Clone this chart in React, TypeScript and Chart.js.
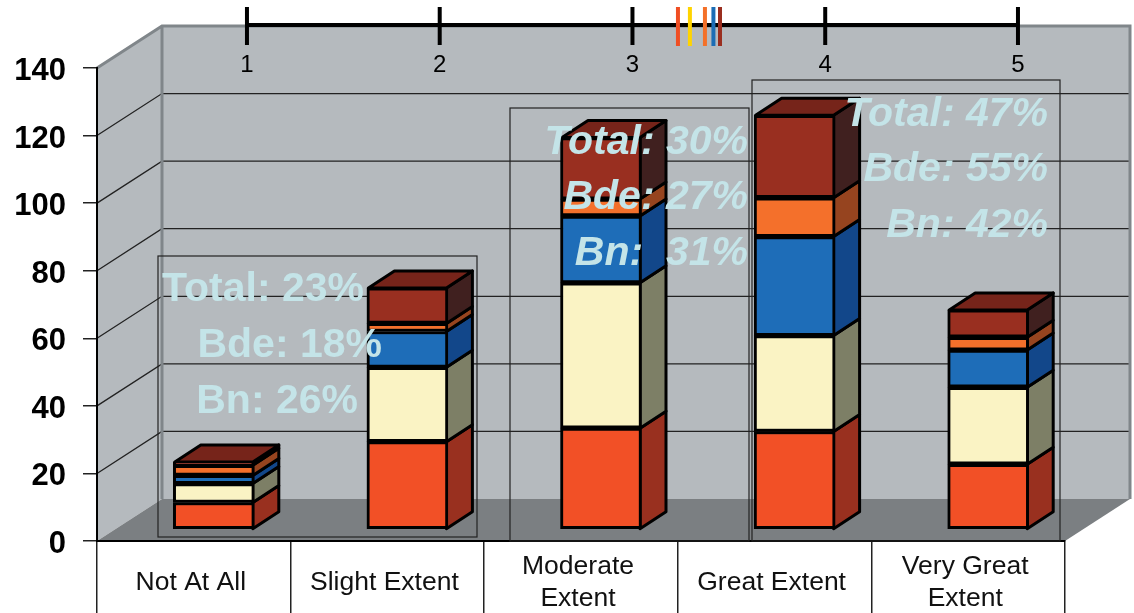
import React, { useEffect, useRef } from "react";
import { Chart, registerables } from "chart.js";

Chart.register(...registerables);

const categories = ["Not At All", "Slight Extent", ["Moderate", "Extent"], "Great Extent", ["Very Great", "Extent"]];
const redValues = [8, 26, 30, 29, 19.3];
const creamValues = [5.6, 22, 43, 28.4, 22.8];
const blueValues = [2.4, 10.6, 19.8, 29.3, 11];
const orangeValues = [3, 2.4, 5, 11.5, 3.8];
const brownValues = [1, 10.5, 18.2, 24.4, 8.1];
const yTicks = [0, 20, 40, 60, 80, 100, 120, 140];
const scaleTicks = [1, 2, 3, 4, 5];
const meanMarks = [3.236, 3.298, 3.376, 3.42, 3.454];

const FRONT = ["#f25026", "#faf3c4", "#1e6db8", "#f4702b", "#992f20"];
const SIDE = ["#99301f", "#7d7f66", "#12478a", "#96441f", "#40201f"];
const MARK = ["#f04e23", "#ffd400", "#f47028", "#1c6db5", "#9a2e1f"];
const TOP_FACE = "#76241a";
const WALL = "#b5babe";
const FLOOR = "#7b7f82";
const EDGE = "#80868a";
const NOTE = "#c4e4e8";
const FF = '"Liberation Sans", Arial, sans-serif';

const DX = 65, DY = 42;      // wall depth
const BX = 20, BY = 11.5;    // bar shift into the room
const SX = 26, SY = 17;      // bar depth

type Note = { box: number[]; italic: boolean; lines: string[]; right: number[]; ys: number[] };
const notes: Note[] = [
  { box: [158, 256, 477, 537], italic: false, lines: ["Total: 23%", "Bde: 18%", "Bn: 26%"], right: [364, 382, 358], ys: [288, 344, 400] },
  { box: [510, 108, 749, 541], italic: true, lines: ["Total: 30%", "Bde: 27%", "Bn:  31%"], right: [748, 748, 748], ys: [143, 198, 254] },
  { box: [752, 80, 1060, 541], italic: true, lines: ["Total: 47%", "Bde: 55%", "Bn: 42%"], right: [1048, 1048, 1048], ys: [115, 170, 226] },
];

function poly(ctx: CanvasRenderingContext2D, pts: number[][], fill?: string, stroke?: string, lw = 1) {
  ctx.beginPath();
  pts.forEach((p, i) => (i ? ctx.lineTo(p[0], p[1]) : ctx.moveTo(p[0], p[1])));
  ctx.closePath();
  if (fill) { ctx.fillStyle = fill; ctx.fill(); }
  if (stroke) { ctx.strokeStyle = stroke; ctx.lineWidth = lw; ctx.lineJoin = "round"; ctx.stroke(); }
}

const room3d = {
  id: "room3d",
  beforeDraw(chart: any) {
    const { ctx } = chart;
    const { left, right, top, bottom } = chart.chartArea;
    const y = chart.scales.y;
    ctx.save();
    poly(ctx, [[left + DX, top - DY], [right + DX, top - DY], [right + DX, bottom - DY], [left + DX, bottom - DY]], WALL);
    poly(ctx, [[left, top], [left + DX, top - DY], [left + DX, bottom - DY], [left, bottom]], WALL);
    poly(ctx, [[left, bottom], [left + DX, bottom - DY], [right + DX, bottom - DY], [right, bottom]], FLOOR);
    ctx.strokeStyle = "#222";
    ctx.lineWidth = 1.3;
    yTicks.slice(1, -1).forEach((v) => {
      const p = y.getPixelForValue(v);
      ctx.beginPath();
      ctx.moveTo(left, p);
      ctx.lineTo(left + DX, p - DY);
      ctx.lineTo(right + DX, p - DY);
      ctx.stroke();
    });
    ctx.strokeStyle = EDGE;
    ctx.lineWidth = 3;
    ctx.beginPath();
    ctx.moveTo(left, top);
    ctx.lineTo(left + DX, top - DY);
    ctx.lineTo(right + DX, top - DY);
    ctx.lineTo(right + DX, bottom - DY);
    ctx.moveTo(left + DX, top - DY);
    ctx.lineTo(left + DX, bottom - DY);
    ctx.stroke();
    ctx.restore();
  },
  beforeDatasetsDraw(chart: any) {
    const { ctx } = chart;
    ctx.save();
    ctx.translate(BX, -BY);
    const n = chart.data.datasets.length;
    chart.data.datasets.forEach((_: any, d: number) => {
      chart.getDatasetMeta(d).data.forEach((el: any) => {
        const p = el.getProps(["x", "y", "base", "width"], true);
        const r = p.x + p.width / 2 - 1.5;
        poly(ctx, [[r, p.y], [r + SX, p.y - SY], [r + SX, p.base - SY], [r, p.base]], SIDE[d], "#000", 3);
        if (d === n - 1) {
          const l = p.x - p.width / 2 + 1.5;
          poly(ctx, [[l, p.y], [l + SX, p.y - SY], [r + SX, p.y - SY], [r, p.y]], TOP_FACE, "#000", 3);
        }
      });
    });
  },
  afterDatasetsDraw(chart: any) {
    const { ctx } = chart;
    ctx.restore();
    ctx.save();
    // scale line along the top of the wall
    const t = chart.scales.topAxis;
    ctx.strokeStyle = "#000";
    ctx.lineWidth = 4;
    ctx.beginPath();
    ctx.moveTo(t.getPixelForValue(scaleTicks[0]), 25);
    ctx.lineTo(t.getPixelForValue(scaleTicks[scaleTicks.length - 1]), 25);
    ctx.stroke();
    ctx.fillStyle = "#000";
    ctx.font = `24px ${FF}`;
    ctx.textAlign = "center";
    ctx.textBaseline = "middle";
    scaleTicks.forEach((v) => {
      const x = t.getPixelForValue(v);
      ctx.beginPath();
      ctx.moveTo(x, 7);
      ctx.lineTo(x, 45);
      ctx.stroke();
      ctx.fillText(String(v), x, 65);
    });
    meanMarks.forEach((v, i) => {
      const x = t.getPixelForValue(v);
      ctx.strokeStyle = MARK[i];
      ctx.beginPath();
      ctx.moveTo(x, 7);
      ctx.lineTo(x, 46);
      ctx.stroke();
    });
    // notes
    notes.forEach((nt) => {
      const [x0, y0, x1, y1] = nt.box;
      ctx.strokeStyle = "#222";
      ctx.lineWidth = 1.2;
      ctx.strokeRect(x0, y0, x1 - x0, y1 - y0);
      ctx.fillStyle = NOTE;
      ctx.font = `${nt.italic ? "italic " : ""}bold 41px ${FF}`;
      ctx.textAlign = "right";
      ctx.textBaseline = "middle";
      nt.lines.forEach((s, i) => ctx.fillText(s, nt.right[i], nt.ys[i] + (nt.italic ? 0 : 2)));
    });
    ctx.restore();
  },
};

const mkSet = (label: string, data: number[], i: number) => ({
  label,
  data,
  backgroundColor: FRONT[i],
  borderColor: "#000",
  borderWidth: 3,
  borderSkipped: false,
  barThickness: 81,
  clip: false,
});

export default function App() {
  const ref = useRef<HTMLCanvasElement>(null);
  useEffect(() => {
    const chart = new Chart(ref.current as HTMLCanvasElement, {
      type: "bar",
      data: {
        labels: categories as any,
        datasets: [
          mkSet("Red", redValues, 0),
          mkSet("Cream", creamValues, 1),
          mkSet("Blue", blueValues, 2),
          mkSet("Orange", orangeValues, 3),
          mkSet("Brown", brownValues, 4),
        ] as any,
      },
      plugins: [room3d as any],
      options: {
        animation: false,
        responsive: false,
        layout: { padding: { top: 68, right: 69, left: 0, bottom: 0 } },
        plugins: { legend: { display: false }, tooltip: { enabled: false }, title: { display: false } },
        scales: {
          x: {
            stacked: true,
            grid: { drawOnChartArea: false, drawTicks: true, tickLength: 72, color: "#222", lineWidth: 1.5 },
            border: { color: "#000", width: 2 },
            ticks: {
              color: "#111",
              font: { family: FF, size: 26.5, lineHeight: 1.21 },
              padding: -46,
              labelOffset: -3,
              crossAlign: "center",
              maxRotation: 0,
              autoSkip: false,
            },
            afterFit(s: any) { s.height = 72; },
          },
          y: {
            stacked: true,
            min: 0,
            max: 140,
            grid: { drawOnChartArea: false, drawTicks: true, tickLength: 14, color: "#222", lineWidth: 1.5 },
            border: { color: "#000", width: 2 },
            ticks: {
              stepSize: 20,
              color: "#000",
              padding: 17,
              labelOffset: 3.5,
              font: { family: FF, size: 31, weight: "bold" },
            },
            afterFit(s: any) { s.width = 97; },
          },
          topAxis: {
            type: "linear",
            display: true,
            position: "top",
            offset: false,
            min: 0.222,
            max: 5.244,
            grid: { display: false, drawTicks: false },
            border: { display: false },
            ticks: { display: false },
            afterFit(s: any) { s.height = 0; },
          },
        },
      } as any,
    });
    return () => chart.destroy();
  }, []);
  return (
    <canvas
      ref={ref}
      width={1134}
      height={613}
      style={{ position: "fixed", left: 0, top: 0, width: 1134, height: 613, display: "block", background: "#fff" }}
    />
  );
}
